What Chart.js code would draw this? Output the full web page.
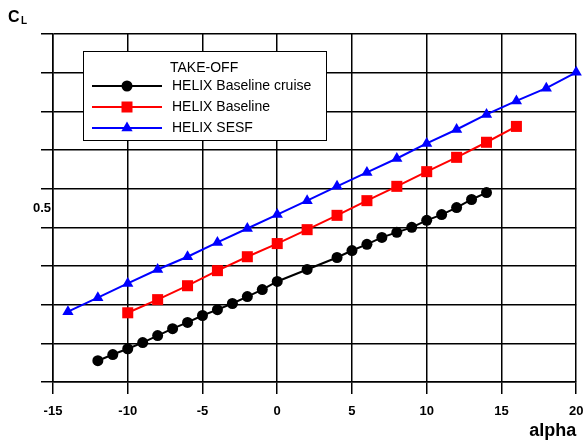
<!DOCTYPE html>
<html>
<head>
<meta charset="utf-8">
<title>CL vs alpha</title>
<script src="https://cdn.jsdelivr.net/npm/chart.js@4.4.1/dist/chart.umd.min.js"></script>
<style>
  html, body { margin: 0; padding: 0; background: #fff; }
  #wrap { width: 584px; height: 443px; }
</style>
</head>
<body>
<div id="wrap"><canvas id="clChart" width="584" height="443"></canvas></div>
<script>
// ===============================
// DATA
// ===============================
const alphaCruise = [-12, -11, -10, -9, -8, -7, -6, -5, -4, -3, -2, -1, 0, 2, 4, 5, 6, 7, 8, 9, 10, 11, 12, 13, 14];
const clCruise = [0.105, 0.121, 0.136, 0.152, 0.170, 0.188, 0.204, 0.222, 0.237, 0.253, 0.271, 0.289, 0.310,
  0.341, 0.372, 0.390, 0.406, 0.424, 0.437, 0.450, 0.468, 0.483, 0.501, 0.522, 0.540];

const alphaBaseline = [-10, -8, -6, -4, -2, 0, 2, 4, 6, 8, 10, 12, 14, 16];
const clBaseline = [0.229, 0.263, 0.299, 0.338, 0.374, 0.408, 0.444, 0.481, 0.519, 0.556, 0.594, 0.631, 0.670, 0.711];

const alphaSesf = [-14, -12, -10, -8, -6, -4, -2, 0, 2, 4, 6, 8, 10, 12, 14, 16, 18, 20];
const clSesf = [0.232, 0.268, 0.305, 0.341, 0.374, 0.411, 0.447, 0.483, 0.519, 0.556, 0.592, 0.628,
  0.667, 0.703, 0.742, 0.777, 0.810, 0.851];

const seriesNames = ["HELIX Baseline cruise", "HELIX Baseline", "HELIX SESF"];
const legendTitle = "TAKE-OFF";

const xTicks = [-15, -10, -5, 0, 5, 10, 15, 20];
const yGridLines = [0.05, 0.15, 0.25, 0.35, 0.45, 0.55, 0.65, 0.75, 0.85, 0.95];
const yLabelValue = 0.5;

const toPoints = (xs, ys) => xs.map((x, i) => ({ x: x, y: ys[i] }));
const isLabelTick = v => Math.abs(v - yLabelValue) < 1e-9;

// C_L axis label and the boxed legend
const extrasPlugin = {
  id: "extras",
  afterDraw(chart) {
    const ctx = chart.ctx;
    ctx.save();

    // C with subscript L
    ctx.fillStyle = "#000";
    ctx.textBaseline = "alphabetic";
    ctx.textAlign = "left";
    ctx.font = "bold 16px Arial, 'Liberation Sans', sans-serif";
    ctx.fillText("C", 8, 22);
    ctx.font = "bold 10px Arial, 'Liberation Sans', sans-serif";
    ctx.fillText("L", 21, 24);

    // legend box
    ctx.fillStyle = "#fff";
    ctx.fillRect(83, 51, 243, 89);
    ctx.strokeStyle = "#000";
    ctx.lineWidth = 1;
    ctx.strokeRect(83.5, 51.5, 243, 89);

    ctx.fillStyle = "#000";
    ctx.font = "14px Arial, 'Liberation Sans', sans-serif";
    ctx.textBaseline = "middle";
    ctx.fillText(legendTitle, 170, 68);

    const rows = [86, 107, 128];
    chart.data.datasets.forEach((ds, i) => {
      const y = rows[i];
      ctx.strokeStyle = ds.borderColor;
      ctx.lineWidth = 2;
      ctx.beginPath();
      ctx.moveTo(92, y);
      ctx.lineTo(162, y);
      ctx.stroke();

      ctx.fillStyle = ds.pointBackgroundColor;
      const cx = 127;
      ctx.beginPath();
      if (ds.pointStyle === "circle") {
        ctx.arc(cx, y, 5.5, 0, Math.PI * 2);
      } else if (ds.pointStyle === "rect") {
        ctx.rect(cx - 5.5, y - 5.5, 11, 11);
      } else {
        const r = 6.5;
        ctx.moveTo(cx, y - r);
        ctx.lineTo(cx + r * 0.866, y + r * 0.5);
        ctx.lineTo(cx - r * 0.866, y + r * 0.5);
        ctx.closePath();
      }
      ctx.fill();

      ctx.fillStyle = "#000";
      ctx.fillText(seriesNames[i], 172, y);
    });

    ctx.restore();
  }
};

const tickFont = { family: "Arial, 'Liberation Sans', sans-serif", size: 13, weight: "bold" };

new Chart(document.getElementById("clChart"), {
  type: "line",
  data: {
    datasets: [
      {
        label: seriesNames[0],
        data: toPoints(alphaCruise, clCruise),
        borderColor: "#000000",
        backgroundColor: "#000000",
        pointBackgroundColor: "#000000",
        pointStyle: "circle",
        pointRadius: 5.5,
        pointBorderWidth: 0,
        borderWidth: 2,
        clip: false
      },
      {
        label: seriesNames[1],
        data: toPoints(alphaBaseline, clBaseline),
        borderColor: "#ff0000",
        backgroundColor: "#ff0000",
        pointBackgroundColor: "#ff0000",
        pointStyle: "rect",
        pointRadius: 7.8,
        pointBorderWidth: 0,
        borderWidth: 2,
        clip: false
      },
      {
        label: seriesNames[2],
        data: toPoints(alphaSesf, clSesf),
        borderColor: "#0000ff",
        backgroundColor: "#0000ff",
        pointBackgroundColor: "#0000ff",
        pointStyle: "triangle",
        pointRadius: 6.5,
        pointBorderWidth: 0,
        borderWidth: 2,
        clip: false
      }
    ]
  },
  options: {
    responsive: false,
    animation: false,
    devicePixelRatio: 1,
    layout: { padding: { top: 34, right: 7, left: 0, bottom: 0 } },
    plugins: {
      legend: { display: false },
      tooltip: { enabled: false }
    },
    elements: { line: { tension: 0 } },
    scales: {
      x: {
        type: "linear",
        min: -15,
        max: 20,
        afterBuildTicks: scale => { scale.ticks = xTicks.map(v => ({ value: v })); },
        afterFit: scale => {
          scale.height = 61;
          scale.paddingLeft = 0;
          scale.paddingRight = 0;
        },
        ticks: {
          color: "#000",
          font: tickFont,
          padding: 10,
          maxRotation: 0,
          callback: v => String(v)
        },
        grid: { color: "#000", lineWidth: 1.5, tickLength: 12 },
        border: { color: "#000", width: 1.5 },
        title: {
          display: true,
          text: "alpha",
          align: "end",
          color: "#000",
          font: { family: "Arial, 'Liberation Sans', sans-serif", size: 18, weight: "bold" },
          padding: { top: 0, bottom: 1 }
        }
      },
      y: {
        type: "linear",
        min: 0.05,
        max: 0.95,
        afterBuildTicks: scale => {
          scale.ticks = yGridLines.concat([yLabelValue]).sort((a, b) => a - b).map(v => ({ value: v }));
        },
        afterFit: scale => {
          scale.width = 53;
          scale.paddingTop = 0;
          scale.paddingBottom = 0;
        },
        ticks: {
          color: "#000",
          font: tickFont,
          padding: -10,
          callback: v => (isLabelTick(v) ? "0.5" : "")
        },
        grid: {
          color: c => (c.tick && isLabelTick(c.tick.value) ? "rgba(0,0,0,0)" : "#000"),
          lineWidth: 1.5,
          tickLength: 12
        },
        border: { color: "#000", width: 1.5 }
      }
    }
  },
  plugins: [extrasPlugin]
});
</script>
</body>
</html>
